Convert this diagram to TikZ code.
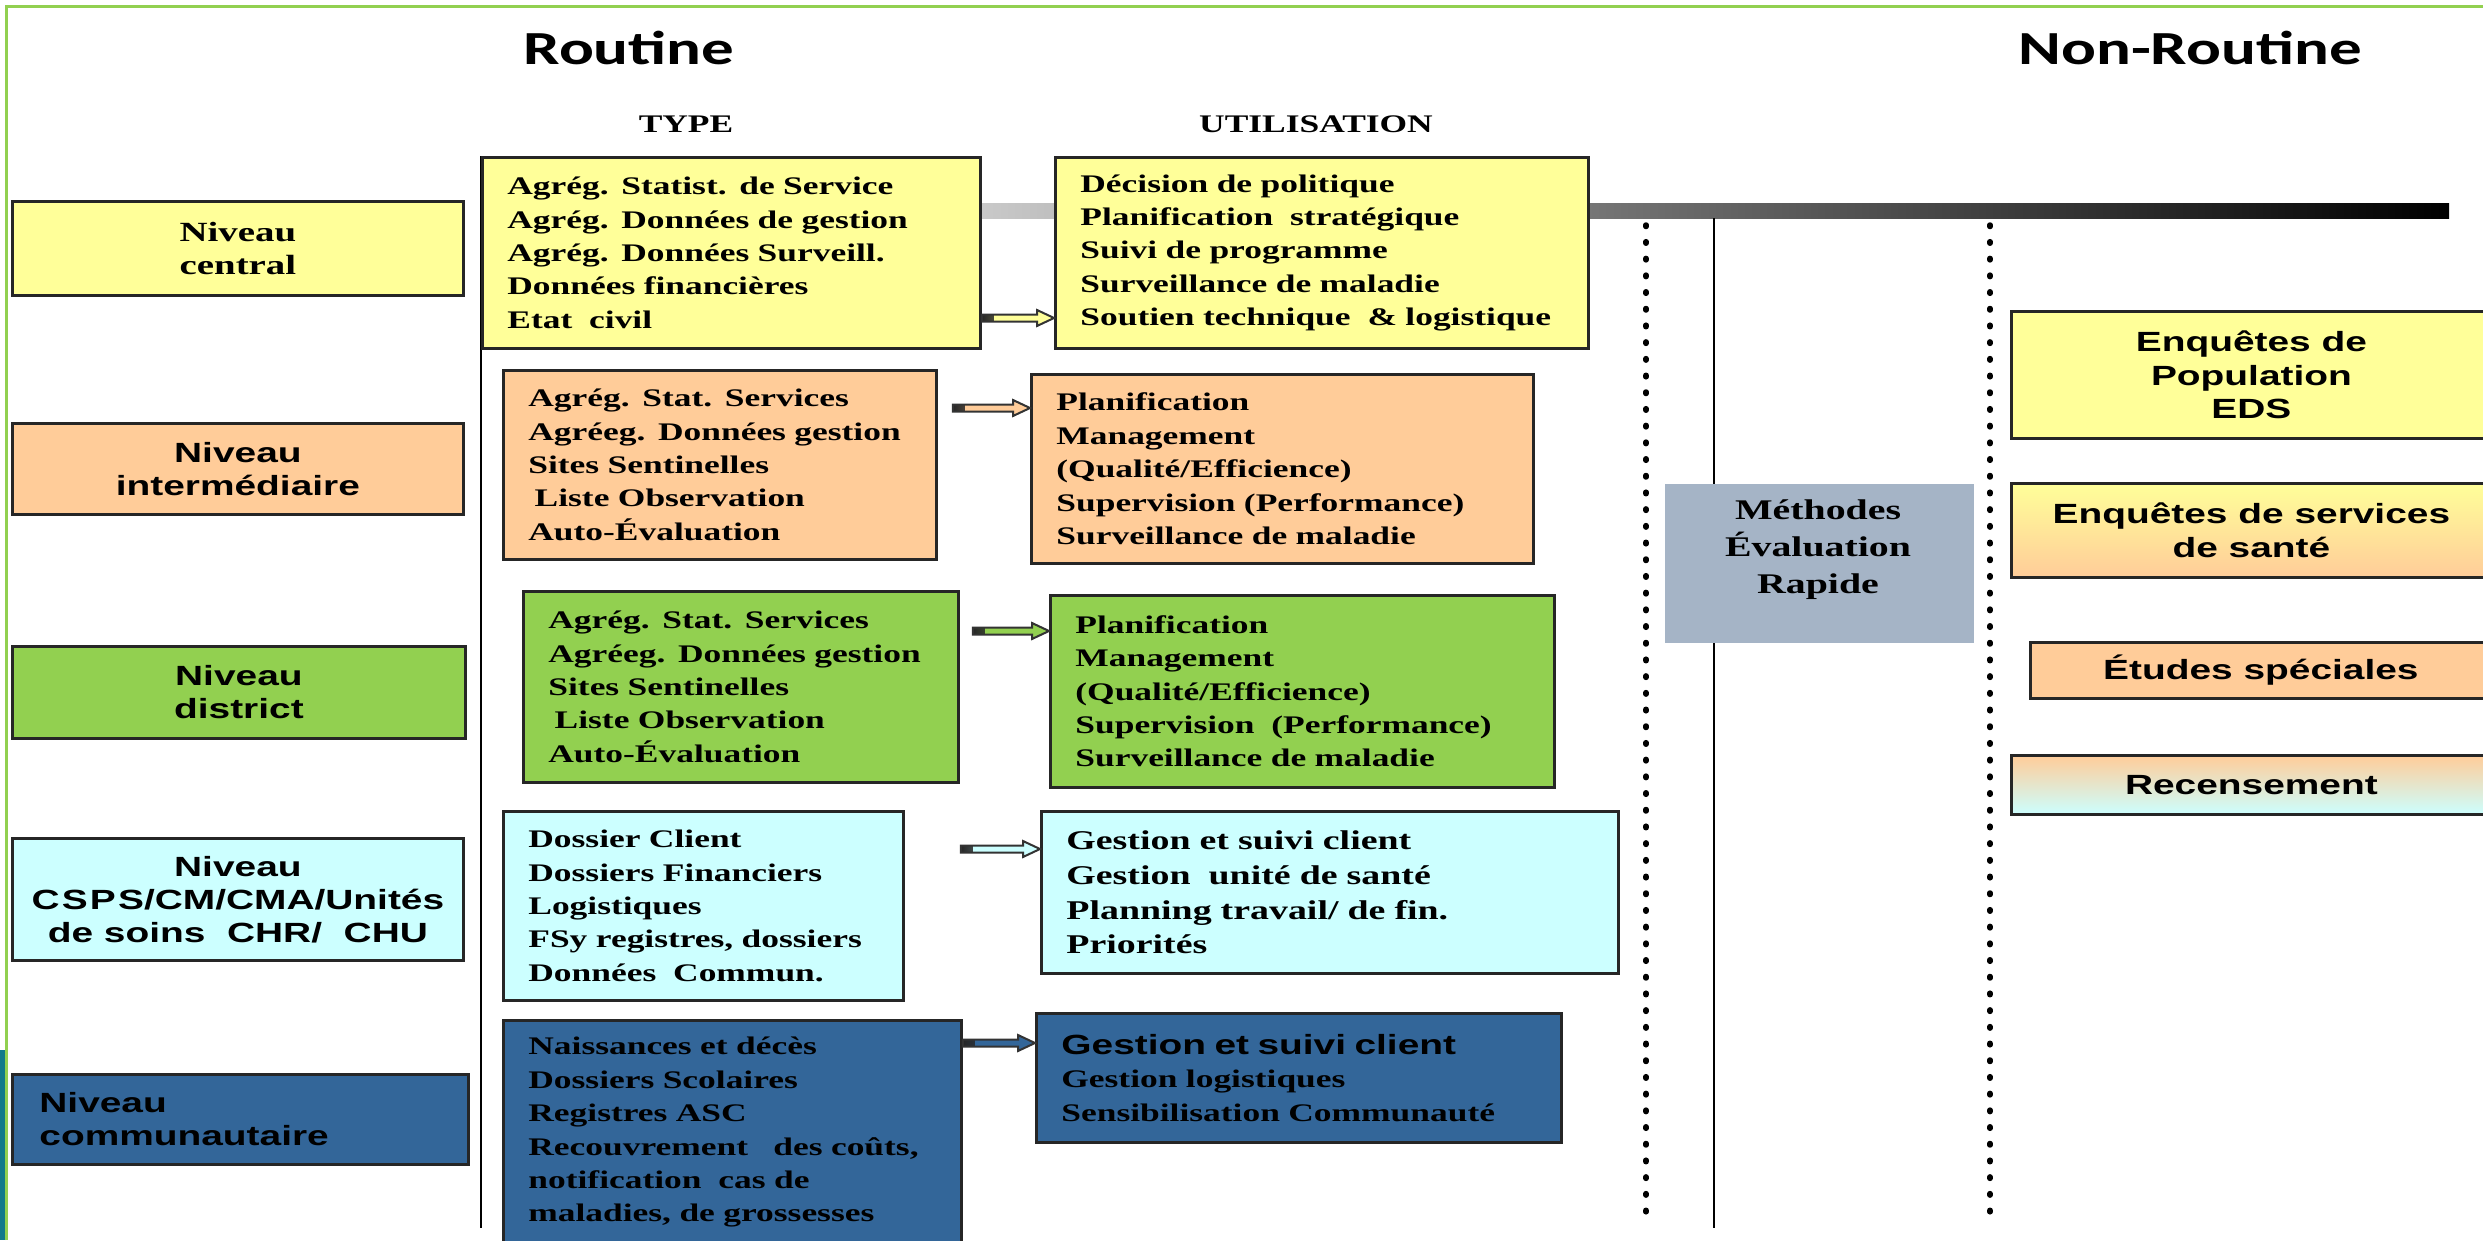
\documentclass[tikz,border=0pt]{standalone}
\usepackage{fontspec}
\usetikzlibrary{calc}
\setmainfont{Liberation Serif}
\newfontfamily\serifw{Liberation Serif}[FakeStretch=1.4]
\newfontfamily\sansw{Liberation Sans}[FakeStretch=1.4]
\newfontfamily\titlew{Carlito}[FakeStretch=1.37]

\definecolor{cY}{HTML}{FFFF99}
\definecolor{cO}{HTML}{FFCC99}
\definecolor{cG}{HTML}{92D050}
\definecolor{cC}{HTML}{CCFFFF}
\definecolor{cB}{HTML}{336699}
\definecolor{cM}{HTML}{A5B4C6}
\definecolor{frameg}{HTML}{92D050}
\definecolor{stript}{HTML}{127A8A}

\tikzset{
  box/.style={draw=black!85, line width=0.28mm, anchor=north west, inner xsep=2.5mm,
    inner ysep=0pt, align=left, font=\serifw\bfseries\fontsize{7.2}{9.5}\selectfont},
  lvl/.style={draw=black!85, line width=0.28mm, anchor=north west, inner sep=0pt,
    align=center, font=\sansw\bfseries\fontsize{7.9}{9.4}\selectfont},
  nrbox/.style={draw=black!85, line width=0.28mm, anchor=north west, inner sep=0pt,
    align=center, font=\sansw\bfseries\fontsize{7.9}{9.6}\selectfont},
  title/.style={font=\titlew\bfseries\fontsize{13.5}{16}\selectfont},
  head/.style={font=\serifw\bfseries\fontsize{7.2}{9}\selectfont},
  dotline/.style={line width=0.55mm, line cap=round, dash pattern=on 0.15mm off 1.52mm}
}

% block arrow: start point, target node anchor, colour
\newcommand\blockarr[3]{%
  \draw[draw=black!80, line width=0.2mm, fill=#3,
    path picture={\shade[left color=black!85, right color=#3]
      (path picture bounding box.south west) rectangle ([xshift=1.2mm]path picture bounding box.north west);}]
    let \p1=#1, \p2=(#2) in
    (\x1,\y1+0.35mm) -- (\x2-1.7mm,\y1+0.35mm) -- (\x2-1.7mm,\y1+0.8mm)
    -- (\x2,\y1) -- (\x2-1.7mm,\y1-0.8mm) -- (\x2-1.7mm,\y1-0.35mm)
    -- (\x1,\y1-0.35mm) -- cycle;
}

\begin{document}
\begin{tikzpicture}[x=0.1mm,y=-0.1mm]
\useasboundingbox (0,0) rectangle (2483,1240);

% frame
\fill[stript] (0,1050) rectangle (5,1240);
\draw[frameg, line width=0.3mm] (6,1240) -- (6,6) -- (2483,6);

% bar and separators
\shade[left color=black!20, right color=black] (960,203) rectangle (2449,218);
\draw[line width=0.2mm] (481,156) -- (481,1228);
\draw[line width=0.2mm] (1714,218) -- (1714,1228);
\draw[dotline] (1646,225) -- (1646,1212);
\draw[dotline] (1990,225) -- (1990,1212);

% titles
\node[title] (routine) at (629,48) {Routine};
\node[title] (nonroutine) at (2190,48) {Non-Routine};
\node[head] (type) at (686,124) {TYPE};
\node[head] (util) at (1316,124) {UTILISATION};

% levels
\node[lvl, minimum width=45.1mm, minimum height=9.4mm, fill=cY,
  font=\serifw\bfseries\fontsize{7.9}{9.4}\selectfont] (lv1) at (11,200) {Niveau\\central};
\node[lvl, minimum width=45.1mm, minimum height=9.1mm, fill=cO] (lv2) at (11,422) {Niveau\\intermédiaire};
\node[lvl, minimum width=45.3mm, minimum height=9.2mm, fill=cG] (lv3) at (11,645) {Niveau\\district};
\node[lvl, minimum width=45.1mm, minimum height=12.2mm, fill=cC] (lv4) at (11,837)
  {Niveau\\C\kern.08em S\kern.08em P\kern.08em S/CM/CMA/Unités\\de soins\ \ CHR/\ \ CHU};
\node[lvl, align=left, text width=40.2mm, inner xsep=2.7mm, minimum height=9mm, fill=cB] (lv5) at (11,1073)
  {Niveau\\communautaire};

% type
\node[box, text width=44.8mm, minimum height=19.1mm, fill=cY] (ty1) at (481,156)
  {Agrég. Statist. de Service\\Agrég. Données de gestion\\Agrég. Données Surveill.\\Données financières\\Etat\ \ civil};
\node[box, text width=38.3mm, minimum height=18.9mm, fill=cO] (ty2) at (502,369)
  {Agrég. Stat. Services\\Agréeg. Données gestion\\Sites Sentinelles\\\hspace*{0.25em}Liste Observation\\Auto-Évaluation};
\node[box, text width=38.5mm, minimum height=19.1mm, fill=cG] (ty3) at (522,590)
  {Agrég. Stat. Services\\Agréeg. Données gestion\\Sites Sentinelles\\\hspace*{0.25em}Liste Observation\\Auto-Évaluation};
\node[box, text width=35mm, minimum height=18.9mm, fill=cC] (ty4) at (502,810)
  {Dossier Client\\Dossiers Financiers\\Logistiques\\FSy registres, dossiers\\Données\ \ Commun.};
\node[box, text width=40.8mm, minimum height=22.4mm, fill=cB] (ty5) at (502,1019)
  {Naissances et décès\\Dossiers Scolaires\\Registres ASC\\Recouvrement\ \ \ des coûts,\\notification\ \ cas de\\maladies,\ de\ grossesses};

% utilisation
\node[box, text width=48.3mm, minimum height=19.1mm, fill=cY] (ut1) at (1054,156)
  {Décision de politique\\Planification\ \ stratégique\\Suivi de programme\\Surveillance de maladie\\Soutien technique\ \ \& logistique};
\node[box, text width=45.2mm, minimum height=18.9mm, fill=cO] (ut2) at (1030,373)
  {Planification\\Management\\(Qualité/Efficience)\\Supervision (Performance)\\Surveillance de maladie};
\node[box, text width=45.4mm, minimum height=19.2mm, fill=cG] (ut3) at (1049,594)
  {Planification\\Management\\(Qualité/Efficience)\\Supervision\ \ (Performance)\\Surveillance de maladie};
\node[box, text width=52.7mm, minimum height=16.2mm, fill=cC,
  font=\serifw\bfseries\fontsize{7.7}{9.9}\selectfont] (ut4) at (1040,810)
  {Gestion et suivi client\\Gestion\ \ unité de santé\\Planning travail/ de fin.\\Priorités};
\node[box, text width=47.5mm, minimum height=12.9mm, fill=cB] (ut5) at (1035,1012)
  {{\sansw\fontsize{7.9}{9.5}\selectfont Gestion et suivi client}\\Gestion logistiques\\Sensibilisation Communauté};

% arrows
\blockarr{([yshift=-16.2mm]ty1.north east)}{ut1.west}{cY}
\blockarr{([xshift=1.5mm,yshift=-3.9mm]ty2.north east)}{ut2.west}{cO}
\blockarr{([xshift=1.3mm,yshift=-4.1mm]ty3.north east)}{ut3.west}{cG}
\blockarr{([xshift=5.6mm,yshift=-3.9mm]ty4.north east)}{ut4.west}{cC}
\blockarr{([yshift=-2.4mm]ty5.north east)}{ut5.west}{cB}

% rapid methods
\node[anchor=north west, fill=cM, minimum width=30.9mm, minimum height=15.9mm, inner sep=0pt] (meth) at (1664,483) {};
\node[align=center, font=\serifw\bfseries\fontsize{8.1}{10.5}\selectfont] (methtxt) at (1818,550)
  {Méthodes\\Évaluation\\Rapide};

% non-routine
\node[nrbox, minimum width=48mm, minimum height=12.7mm, fill=cY] (ns1) at (2010,310) {Enquêtes de\\Population\\EDS};
\node[nrbox, minimum width=48mm, minimum height=9.4mm, top color=cY, bottom color=cO] (ns2) at (2010,482)
  {Enquêtes de services\\de santé};
\node[nrbox, minimum width=46.1mm, minimum height=5.6mm, fill=cO] (ns3) at (2029,641) {Études spéciales};
\node[nrbox, minimum width=48mm, minimum height=5.9mm, top color=cO, bottom color=cC] (ns4) at (2010,754) {Recensement};
\end{tikzpicture}
\end{document}
